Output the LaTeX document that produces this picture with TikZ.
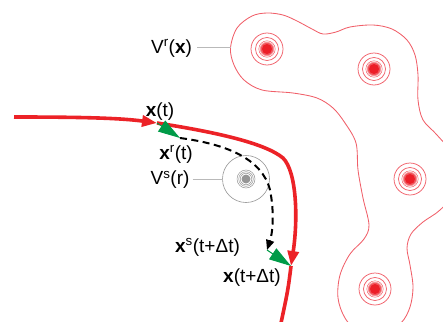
\documentclass[tikz,border=0pt]{standalone}
\usepackage{fontspec}
\setmainfont{Liberation Sans}
\usetikzlibrary{arrows.meta}
\definecolor{traj}{RGB}{236,34,39}
\definecolor{cont}{RGB}{240,95,105}
\definecolor{src}{RGB}{236,30,40}
\definecolor{grn}{RGB}{0,155,72}
\definecolor{lead}{RGB}{185,185,185}
\definecolor{vsg}{RGB}{150,150,150}
\tikzset{
  lbl/.style={inner sep=0pt, anchor=base, font=\fontsize{19}{22}\selectfont},
  trajline/.style={draw=traj, line width=3.6pt},
  trajtip/.style={-{Triangle[length=15pt,width=11pt]}},
  dashline/.style={draw=black, line width=2pt, dash pattern=on 7pt off 4.5pt},
  grnarrow/.style={draw=grn, fill=grn, line width=1pt, -{Triangle[length=22pt,width=13pt]}},
  leader/.style={draw=lead, line width=0.7pt},
  ring/.style={draw=cont, line width=0.75pt},
  graying/.style={draw=vsg, line width=0.6pt}
}
\begin{document}
\begin{tikzpicture}[x=1pt,y=-1pt]
\useasboundingbox (0,0) rectangle (443,321);
\clip (0,0) rectangle (443,321);
% red contour V^r
\draw[draw=cont, line width=0.85pt] plot[smooth cycle, tension=0.55] coordinates {
 (230.5,48) (237,28) (252,16) (267,13) (283,15) (297,21) (312,29) (323,34)
 (336,32) (350,27) (373,25) (392,29) (407,40) (415,55) (418,75) (418,100)
 (423,120) (437,135) (452,155) (456,190) (440,210) (423,222) (411,234)
 (407,248) (410,265) (413,287) (410,307) (401,323) (380,338) (360,334)
 (345,318) (338,298) (340,275) (350,254) (364,239) (369,225) (363,198)
 (358,170) (356,143) (345,123) (333,108) (317,98) (293,93) (262,90)
 (244,80) (234,65)};
\coordinate (vrc) at (230.5,47);
% sources
\foreach \n/\cx/\cy in {s1/267/49, s2/374/69, s3/410/179, s4/375/289}{
  \coordinate (\n) at (\cx,\cy);
  \draw[ring] (\n) circle (16);
  \draw[ring] (\n) circle (11.5);
  \draw[ring, line width=0.5pt] (\n) circle (8.2);
  \fill[src!45] (\n) circle (7.2);
  \fill[src!75] (\n) circle (6.2);
  \fill[src] (\n) circle (5);
}
% gray V^s
\coordinate (vs) at (246,179);
\draw[graying] (vs) circle (23.5);
\draw[graying, line width=0.5pt] (vs) circle (9);
\draw[graying, line width=0.5pt] (vs) circle (7.3);
\draw[graying, line width=0.5pt] (vs) circle (5.8);
\fill[vsg] (vs) circle (4.5);
\coordinate (vsw) at (222.5,179);
% key points
\coordinate (start) at (14,117);
\coordinate (xt) at (157,123);
\coordinate (xr) at (180,138);
\coordinate (xs) at (267,250);
\coordinate (xdt) at (291,266);
\coordinate (endp) at (281,323);
% trajectory
\draw[trajline, trajtip] (start) .. controls (80,117) and (120,118) .. (xt);
\draw[trajline, trajtip] (xt) .. controls (215,132) and (265,143) .. (283,158)
   .. controls (297,172) and (298,220) .. (xdt);
\draw[trajline] (xdt) .. controls (288,290) .. (endp);
% dashed
\draw[dashline, -{Triangle[length=10pt,width=8pt]}] (xr) .. controls (225,144) and (262,158) .. (270,190)
   .. controls (275,215) and (272,235) .. (xs);
% green
\draw[grnarrow] (xt) -- (xr);
\draw[grnarrow] (xs) -- (xdt);
% labels
\node[lbl] (lxt) at (160,116.5) {\textbf{x}(t)};
\node[lbl] (lxr) at (176,159) {\textbf{x}\textsuperscript{r}(t)};
\node[lbl] (lvs) at (170,184.5) {V\textsuperscript{s}(r)};
\node[lbl] (lxs) at (207.5,252) {\textbf{x}\textsuperscript{s}(t+Δt)};
\node[lbl] (lxdt) at (252,282) {\textbf{x}(t+Δt)};
\node[lbl] (lvr) at (171.5,53) {V\textsuperscript{r}(\textbf{x})};
% leaders
\draw[leader] ([xshift=5pt]lvr.east |- vrc) -- (vrc);
\draw[leader] ([xshift=3pt]lvs.east |- vsw) -- (vsw);
\end{tikzpicture}
\end{document}
